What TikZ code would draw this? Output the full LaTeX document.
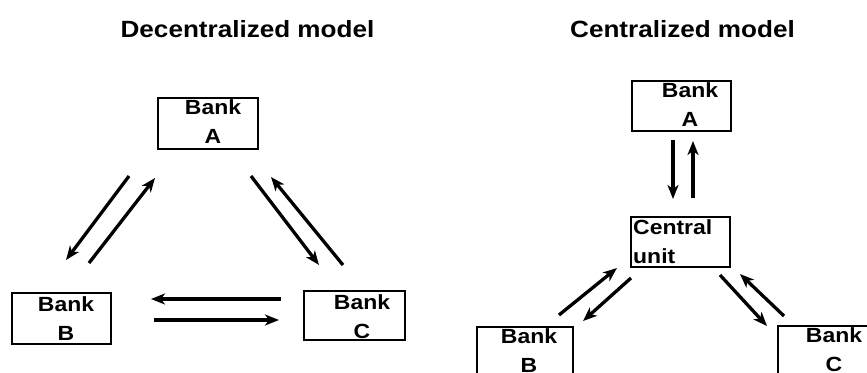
\documentclass[tikz,border=0pt]{standalone}
\usepackage{fontspec}
\newfontfamily\titlefont{Liberation Sans}[FakeStretch=1.11]
\newfontfamily\boxfont{Liberation Sans}[FakeStretch=1.12]
\usetikzlibrary{arrows.meta}
\tikzset{
  bankbox/.style={draw, line width=1.4pt, rectangle, inner sep=0pt},
  boxtext/.style={inner sep=0pt, align=center, anchor=north, font=\boxfont\bfseries\fontsize{20.5}{29}\selectfont},
  titletext/.style={inner sep=0pt, anchor=base, font=\titlefont\bfseries\fontsize{23.5}{28}\selectfont},
  flow/.style={line width=3.3pt, -{Stealth[length=14pt,width=11pt,inset=4pt]}}
}
\begin{document}
\begin{tikzpicture}[x=1pt,y=-1pt]
\useasboundingbox (0,0) rectangle (867,372);
\fill[white] (0,0) rectangle (867,372);
% titles
\node[titletext] (t1) at (247.5,37) {Decentralized model};
\node[titletext] (t2) at (682.5,37) {Centralized model};
% decentralized boxes
\node[bankbox, minimum width=100pt, minimum height=51pt] (dA) at (208,123.5) {};
\node[bankbox, minimum width=99pt, minimum height=51pt] (dB) at (61.5,318.5) {};
\node[bankbox, minimum width=101pt, minimum height=49pt] (dC) at (354.5,315.5) {};
\node[boxtext] (dAt) at (213,99) {Bank\\A};
\node[boxtext] (dBt) at (66,296) {Bank\\B};
\node[boxtext] (dCt) at (362,294) {Bank\\C};
% decentralized arrow ends
\coordinate (ab1) at (129,176); \coordinate (ab2) at (66,260);
\coordinate (ba1) at (89,263);  \coordinate (ba2) at (155,178);
\coordinate (ac1) at (251,176); \coordinate (ac2) at (319,265);
\coordinate (ca1) at (343,265); \coordinate (ca2) at (271,177);
\coordinate (cb1) at (281,299); \coordinate (cb2) at (151,299);
\coordinate (bc1) at (154,320); \coordinate (bc2) at (279,320);
\draw[flow] (ab1) -- (ab2);
\draw[flow] (ba1) -- (ba2);
\draw[flow] (ac1) -- (ac2);
\draw[flow] (ca1) -- (ca2);
\draw[flow] (cb1) -- (cb2);
\draw[flow] (bc1) -- (bc2);
% centralized boxes
\node[bankbox, minimum width=99pt, minimum height=50pt] (cA) at (681.5,106) {};
\node[bankbox, minimum width=99pt, minimum height=50pt] (cU) at (680.5,242) {};
\node[bankbox, minimum width=96pt, minimum height=51pt] (cB) at (525,352.5) {};
\node[bankbox, minimum width=100pt, minimum height=51pt] (cC) at (828,351.5) {};
\node[boxtext] (cAt) at (690,82) {Bank\\A};
\node[boxtext, anchor=north west, align=left] (cUt) at (633,219) {Central\\unit};
\node[boxtext] (cBt) at (529,328) {Bank\\B};
\node[boxtext] (cCt) at (834,327) {Bank\\C};
% centralized arrow ends
\coordinate (au1) at (673,140); \coordinate (au2) at (673,199);
\coordinate (ua1) at (693,198); \coordinate (ua2) at (693,141);
\coordinate (bu1) at (559,315); \coordinate (bu2) at (617,268);
\coordinate (ub1) at (631,278); \coordinate (ub2) at (583,321);
\coordinate (uc1) at (720,275); \coordinate (uc2) at (767,326);
\coordinate (cu1) at (784,316); \coordinate (cu2) at (740,274);
\draw[flow] (au1) -- (au2);
\draw[flow] (ua1) -- (ua2);
\draw[flow] (bu1) -- (bu2);
\draw[flow] (ub1) -- (ub2);
\draw[flow] (uc1) -- (uc2);
\draw[flow] (cu1) -- (cu2);
\end{tikzpicture}
\end{document}
